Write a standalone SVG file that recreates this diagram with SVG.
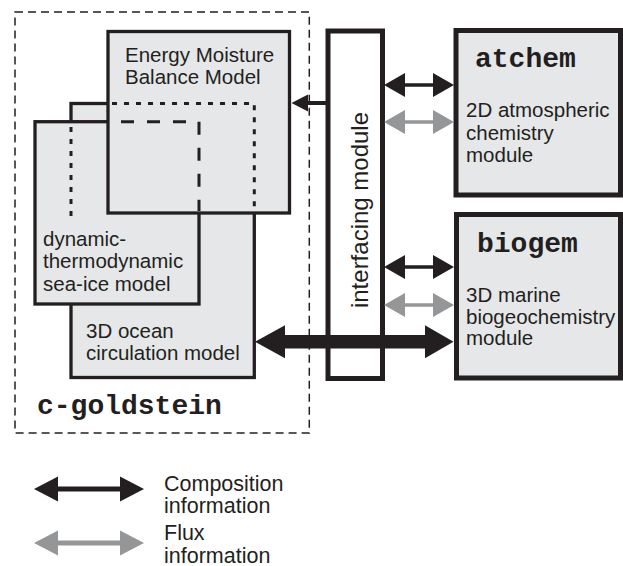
<svg xmlns="http://www.w3.org/2000/svg" width="623" height="566" viewBox="0 0 623 566">
<style>
.box{fill:#e6e7e8;stroke:#231f20;stroke-width:3.3}
.thick{fill:#e6e7e8;stroke:#231f20;stroke-width:5}
.t{font-family:"Liberation Sans",Arial,sans-serif;font-size:20.5px;fill:#231f20}
.lg{font-family:"Liberation Sans",Arial,sans-serif;font-size:21.5px;fill:#231f20}
.m{font-family:"Liberation Mono","Courier New",monospace;font-weight:bold;font-size:28px;fill:#231f20}
.dot{fill:none;stroke:#231f20;stroke-width:3;stroke-dasharray:5 7}
.dash{fill:none;stroke:#231f20;stroke-width:3;stroke-dasharray:13 13}
.blk{fill:#231f20}
.gry{fill:#959698}
</style>
<rect width="623" height="566" fill="#ffffff"/>
<g id="c-goldstein">
<rect x="15" y="12" width="294.3" height="421" fill="none" stroke="#231f20" stroke-width="1.5" stroke-dasharray="8 5"/>
<text class="m" x="37" y="414">c-goldstein</text>
</g>
<g id="ocean">
<rect class="box" x="71" y="103.5" width="183.3" height="274"/>
<text class="t" x="86" y="338">3D ocean</text>
<text class="t" x="86" y="360">circulation model</text>
</g>
<g id="seaice">
<rect class="box" x="35" y="121.7" width="164" height="182.3"/>
<text class="t" x="43" y="245.5">dynamic-</text>
<text class="t" x="43" y="268">thermodynamic</text>
<text class="t" x="43" y="291">sea-ice model</text>
</g>
<g id="embm">
<rect class="box" x="108" y="31.5" width="181.5" height="181.5"/>
<text class="t" x="125" y="62">Energy Moisture</text>
<text class="t" x="125" y="84">Balance Model</text>
</g>
<g id="hidden-edges">
<path class="dot" d="M112,103.5 H254.3 V211"/>
<path class="dot" d="M71,127 V217"/>
<path class="dash" d="M108,121.7 H199" stroke-dashoffset="13"/>
<path class="dash" d="M199,121.7 V211"/>
</g>
<g id="interfacing">
<rect x="328" y="31" width="54.5" height="347.5" fill="#ffffff" stroke="#231f20" stroke-width="5"/>
<text class="t" style="font-size:24px" text-anchor="middle" transform="translate(367.5,210) rotate(-90)">interfacing module</text>
</g>
<g id="atchem">
<rect class="thick" x="456" y="30.5" width="164.5" height="164.5"/>
<text class="m" x="475" y="66.5">atchem</text>
<text class="t" x="466" y="117">2D atmospheric</text>
<text class="t" x="466" y="139.5">chemistry</text>
<text class="t" x="466" y="162">module</text>
</g>
<g id="biogem">
<rect class="thick" x="456.5" y="214.5" width="164" height="163.5"/>
<text class="m" x="477" y="251.5">biogem</text>
<text class="t" x="466" y="301.5">3D marine</text>
<text class="t" x="466" y="323.5">biogeochemistry</text>
<text class="t" x="466" y="345">module</text>
</g>
<g id="connectors">
<path class="blk" d="M291.5,103 L308,94.5 L308,101 L326,101 L326,105 L308,105 L308,111.5 Z"/>
<path class="blk" d="M384,85 L405,73 L405,83.2 L433,83.2 L433,73 L454,85 L433,97 L433,86.8 L405,86.8 L405,97 Z"/>
<path class="gry" d="M384,122 L405,110 L405,120.2 L433,120.2 L433,110 L454,122 L433,134 L433,123.8 L405,123.8 L405,134 Z"/>
<path class="blk" d="M384,267 L405,255 L405,265.2 L433,265.2 L433,255 L454,267 L433,279 L433,268.8 L405,268.8 L405,279 Z"/>
<path class="gry" d="M384,305 L405,293 L405,303.2 L433,303.2 L433,293 L454,305 L433,317 L433,306.8 L405,306.8 L405,317 Z"/>
<path class="blk" d="M255,341.7 L285,325.2 L285,335 L425,335 L425,325.2 L453.5,341.7 L425,358.2 L425,348.4 L285,348.4 L285,358.2 Z"/>
</g>
<g id="legend">
<path class="blk" d="M34,489 L58,476.5 L58,486.5 L120,486.5 L120,476.5 L144,489 L120,501.5 L120,491.5 L58,491.5 L58,501.5 Z"/>
<path class="gry" d="M34,543 L58,530.5 L58,540.5 L120,540.5 L120,530.5 L144,543 L120,555.5 L120,545.5 L58,545.5 L58,555.5 Z"/>
<text class="lg" x="164" y="490.5">Composition</text>
<text class="lg" x="164" y="513">information</text>
<text class="lg" x="164" y="540">Flux</text>
<text class="lg" x="164" y="562.5">information</text>
</g>
</svg>
